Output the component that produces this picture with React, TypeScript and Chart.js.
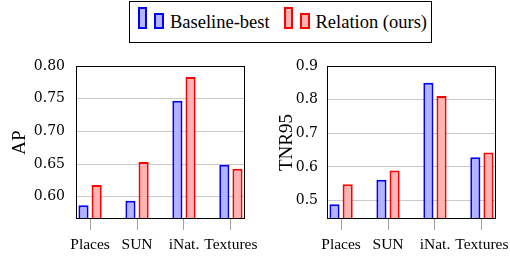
import React, { useEffect, useRef } from "react";
import { Chart, registerables } from "chart.js";
Chart.register(...registerables);

const categories = ["Places", "SUN", "iNat.", "Textures"];
const seriesNames = ["Baseline-best", "Relation (ours)"];
const apBaseline = [0.587, 0.594, 0.747, 0.649];
const apRelation = [0.618, 0.653, 0.783, 0.643];
const tnrBaseline = [0.489, 0.562, 0.85, 0.629];
const tnrRelation = [0.548, 0.589, 0.811, 0.643];
const apTicks = [0.6, 0.65, 0.7, 0.75, 0.8];
const tnrTicks = [0.5, 0.6, 0.7, 0.8, 0.9];

const BLUE = "#0000ff";
const BLUE_FILL = "#b3b3ff";
const RED = "#ff0000";
const RED_FILL = "#ffb3b3";
const TICK_FONT = "DejaVu Serif, Liberation Serif, serif";

const framePlugin = {
  id: "frame",
  afterDatasetsDraw(chart: any) {
    const { ctx, chartArea: a } = chart;
    ctx.save();
    ctx.strokeStyle = "#000";
    ctx.lineWidth = 1;
    ctx.strokeRect(
      Math.round(a.left) + 0.5,
      Math.round(a.top) + 0.5,
      Math.round(a.right - a.left) - 1,
      Math.round(a.bottom - a.top) - 1
    );
    ctx.restore();
  },
};

type PanelProps = {
  left: number;
  width: number;
  yAxisWidth: number;
  padRight: number;
  yMin: number;
  yMax: number;
  ticks: number[];
  decimals: number;
  title: string;
  titlePad: number;
  tickPad: number;
  baseline: number[];
  relation: number[];
};

function Panel(p: PanelProps) {
  const ref = useRef<HTMLCanvasElement | null>(null);
  useEffect(() => {
    if (!ref.current) return;
    const chart = new Chart(ref.current, {
      type: "bar",
      data: {
        datasets: [
          {
            label: seriesNames[0],
            data: p.baseline.map((v, i) => ({ x: i, y: v })),
            backgroundColor: BLUE_FILL,
            borderColor: BLUE,
            borderWidth: 2,
            borderSkipped: "start",
            categoryPercentage: 0.56,
            barPercentage: 0.77,
          },
          {
            label: seriesNames[1],
            data: p.relation.map((v, i) => ({ x: i, y: v })),
            backgroundColor: RED_FILL,
            borderColor: RED,
            borderWidth: 2,
            borderSkipped: "start",
            categoryPercentage: 0.56,
            barPercentage: 0.77,
          },
        ],
      } as any,
      options: {
        animation: false,
        responsive: false,
        maintainAspectRatio: false,
        layout: { padding: { top: 66, right: p.padRight, bottom: 0, left: 0 } },
        plugins: { legend: { display: false }, tooltip: { enabled: false } },
        scales: {
          x: {
            type: "linear",
            min: -0.3,
            max: 3.3,
            offset: false,
            afterBuildTicks: (s: any) => {
              s.ticks = categories.map((_, i) => ({ value: i }));
            },
            afterFit: (s: any) => {
              s.height = 37;
              s.paddingLeft = 0;
              s.paddingRight = 0;
            },
            ticks: {
              autoSkip: false,
              maxRotation: 0,
              minRotation: 0,
              padding: 6,
              color: "#000",
              font: { family: "Liberation Serif", size: 15.5 },
              callback: (v: any) => categories[Math.round(Number(v))] ?? "",
            },
            grid: {
              offset: false,
              drawOnChartArea: false,
              drawTicks: true,
              tickLength: 11,
              color: "#a0a0a0",
              lineWidth: 1,
            },
            border: { display: false },
          },
          y: {
            type: "linear",
            min: p.yMin,
            max: p.yMax,
            afterBuildTicks: (s: any) => {
              s.ticks = p.ticks.map((v) => ({ value: v }));
            },
            afterFit: (s: any) => {
              s.width = p.yAxisWidth;
            },
            ticks: {
              padding: p.tickPad,
              color: "#000",
              font: { family: TICK_FONT, size: 14 },
              callback: (v: any) => Number(v).toFixed(p.decimals),
            },
            grid: { color: "#c8c8c8", drawTicks: false, tickLength: 0, lineWidth: 1 },
            border: { display: false },
            title: {
              display: true,
              text: p.title,
              color: "#000",
              font: { family: "Liberation Serif", size: 19 },
              padding: { top: p.titlePad, bottom: 0 },
            },
          },
        },
      } as any,
      plugins: [framePlugin],
    });
    return () => chart.destroy();
  }, []);
  return (
    <canvas
      ref={ref}
      width={p.width}
      height={256}
      style={{ position: "absolute", left: p.left, top: 0, width: p.width, height: 256, display: "block" }}
    />
  );
}

const bar = (left: number, top: number, w: number, h: number, border: string, fill: string) => (
  <div
    style={{
      position: "absolute",
      left,
      top,
      width: w,
      height: h,
      boxSizing: "border-box",
      border: `2px solid ${border}`,
      background: fill,
    }}
  />
);

const textStyle: React.CSSProperties = {
  position: "absolute",
  top: 13,
  fontFamily: "'Liberation Serif'",
  fontSize: 18.5,
  lineHeight: 1,
  whiteSpace: "nowrap",
  color: "#000",
};

export default function App() {
  return (
    <div style={{ position: "absolute", left: 0, top: 0, width: 510, height: 256, background: "#fff", overflow: "hidden" }}>
      <Panel
        left={0}
        width={260}
        yAxisWidth={76}
        padRight={15}
        yMin={0.566}
        yMax={0.8}
        ticks={apTicks}
        decimals={2}
        title="AP"
        titlePad={8.6}
        tickPad={11}
        baseline={apBaseline}
        relation={apRelation}
      />
      <Panel
        left={255}
        width={255}
        yAxisWidth={72}
        padRight={14}
        yMin={0.445}
        yMax={0.9}
        ticks={tnrTicks}
        decimals={1}
        title="TNR95"
        titlePad={20.6}
        tickPad={9}
        baseline={tnrBaseline}
        relation={tnrRelation}
      />
      <div
        style={{
          position: "absolute",
          left: 129,
          top: 1,
          width: 303,
          height: 42,
          boxSizing: "border-box",
          border: "1px solid #000",
          background: "#fff",
        }}
      />
      {bar(138, 7, 9, 22, BLUE, BLUE_FILL)}
      {bar(154, 13, 10, 16, BLUE, BLUE_FILL)}
      <span style={{ ...textStyle, left: 170 }}>{seriesNames[0]}</span>
      {bar(284, 7, 9, 22, RED, RED_FILL)}
      {bar(300, 13, 10, 16, RED, RED_FILL)}
      <span style={{ ...textStyle, left: 315.5 }}>{seriesNames[1]}</span>
    </div>
  );
}
